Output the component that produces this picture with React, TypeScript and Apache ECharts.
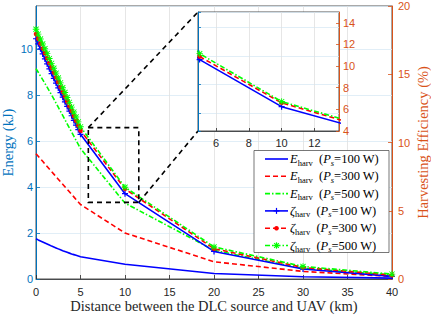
import React, { useEffect, useRef } from "react";
import * as echarts from "echarts";

// Distance between the DLC source and UAV (km)
const distances = [0, 0.25, 0.5, 0.75, 1, 1.25, 1.5, 1.75, 2, 2.25, 2.5, 2.75, 3, 3.25, 3.5, 3.75, 4, 4.25, 4.5, 4.75, 5, 10, 20, 30, 40];

// Harvested energy (kJ)
const eHarv100 = [1.75, 1.7, 1.655, 1.61, 1.565, 1.52, 1.475, 1.43, 1.39, 1.35, 1.31, 1.27, 1.23, 1.195, 1.16, 1.125, 1.09, 1.06, 1.03, 1.0, 0.97, 0.64, 0.24, 0.1, 0.04];
const eHarv300 = [5.45, 5.34, 5.23, 5.12, 5.0, 4.89, 4.78, 4.67, 4.56, 4.45, 4.34, 4.23, 4.12, 4.01, 3.9, 3.79, 3.68, 3.57, 3.46, 3.35, 3.24, 2.0, 0.75, 0.33, 0.11];
const eHarv500 = [9.15, 8.99, 8.83, 8.67, 8.51, 8.34, 8.17, 8.0, 7.83, 7.65, 7.47, 7.29, 7.11, 6.93, 6.75, 6.57, 6.39, 6.21, 6.03, 5.85, 5.67, 3.3, 1.25, 0.46, 0.18];

// Harvesting efficiency (%)
const zeta100 = [17.6, 17.23, 16.86, 16.49, 16.12, 15.76, 15.4, 15.05, 14.7, 14.35, 14.0, 13.66, 13.32, 12.98, 12.64, 12.3, 11.96, 11.62, 11.28, 10.94, 10.6, 6.25, 2.02, 0.73, 0.19];
const zeta300 = [17.95, 17.6, 17.24, 16.89, 16.54, 16.18, 15.83, 15.48, 15.12, 14.77, 14.42, 14.06, 13.71, 13.36, 13.0, 12.65, 12.3, 11.94, 11.59, 11.24, 10.88, 6.6, 2.22, 0.85, 0.28];
const zeta500 = [18.3, 17.94, 17.58, 17.22, 16.87, 16.51, 16.15, 15.8, 15.44, 15.08, 14.73, 14.37, 14.01, 13.66, 13.3, 12.94, 12.59, 12.23, 11.87, 11.51, 11.15, 6.72, 2.35, 0.92, 0.36];

const powers = ["100", "300", "500"];

// zoom rectangle (data coords of main chart, kJ axis) and inset ranges
const zoomX = [5.88, 11.55];
const zoomY = [3.33, 6.58];
const insetX = [4.9, 13.5];
const insetY = [4, 15];

const BLUE_AX = "#0072BD";
const ORANGE_AX = "#D95319";
const DARK = "#262626";
const colors = ["#0000FF", "#FF0000", "#00FF00"];
const dashes: any[] = ["solid", [5, 3], [5, 2, 1.5, 2]];

const PLUS = "path://M4,0H6V4H10V6H6V10H4V6H0V4H4Z";
const STAR =
  "path://M4.3,0H5.7V4.3H10V5.7H5.7V10H4.3V5.7H0V4.3H4.3Z M1.5,0.5L5,4L8.5,0.5L9.5,1.5L6,5L9.5,8.5L8.5,9.5L5,6L1.5,9.5L0.5,8.5L4,5L0.5,1.5Z";
const symbols = [PLUS, "circle", STAR];
const symbolSizes = [6, 4.5, 6.5];

const pairs = (arr: number[]) => distances.map((d, i) => [d, arr[i]]);

export default function App() {
  const ref = useRef<HTMLDivElement>(null);
  useEffect(() => {
    document.body.style.margin = "0";
    const chart = echarts.init(ref.current!, null, { renderer: "svg" });
    const eArr = [eHarv100, eHarv300, eHarv500];
    const zArr = [zeta100, zeta300, zeta500];
    const series: any[] = [];
    eArr.forEach((arr, i) => {
      series.push({
        name: `E_harv (P_s=${powers[i]} W)`,
        type: "line",
        xAxisIndex: 0,
        yAxisIndex: 0,
        data: pairs(arr),
        symbol: "none",
        lineStyle: { color: colors[i], width: 1.6, type: dashes[i] },
        z: 2,
      });
    });
    zArr.forEach((arr, i) => {
      series.push({
        name: `zeta_harv (P_s=${powers[i]} W)`,
        type: "line",
        xAxisIndex: 0,
        yAxisIndex: 1,
        data: pairs(arr),
        symbol: symbols[i],
        symbolSize: symbolSizes[i],
        itemStyle: { color: colors[i] },
        lineStyle: { color: colors[i], width: 1.6, type: dashes[i] },
        z: 3,
      });
    });
    zArr.forEach((arr, i) => {
      series.push({
        name: `inset zeta_harv (P_s=${powers[i]} W)`,
        type: "line",
        xAxisIndex: 1,
        yAxisIndex: 2,
        data: pairs(arr),
        symbol: symbols[i],
        symbolSize: symbolSizes[i],
        itemStyle: { color: colors[i] },
        lineStyle: { color: colors[i], width: 1.6, type: dashes[i] },
        clip: true,
        z: 12,
      });
    });

    const tickFont = { fontFamily: "Liberation Sans", fontSize: 11 };
    const nameFont = { fontFamily: "Liberation Serif", fontSize: 14.5, lineHeight: 15 };

    chart.setOption({
      animation: false,
      textStyle: { fontFamily: "Liberation Sans" },
      grid: [
        { left: 36, top: 6, width: 356, height: 273, show: true, backgroundColor: "#fff", borderColor: DARK, borderWidth: 0.8, outerBoundsMode: "none", z: 0 },
        { left: 198, top: 12, width: 141, height: 119, show: true, backgroundColor: "#fff", borderColor: DARK, borderWidth: 0.8, outerBoundsMode: "none", z: 10 },
      ],
      xAxis: [
        {
          type: "value", gridIndex: 0, min: 0, max: 40, interval: 5,
          axisLine: { lineStyle: { color: DARK, width: 0.8 } },
          axisTick: { inside: true, length: 4, lineStyle: { color: DARK, width: 0.8 } },
          axisLabel: { ...tickFont, color: DARK, margin: 7 },
          splitLine: { show: true, lineStyle: { color: "#dfdfdf", width: 0.8 } },
          name: "Distance between the DLC source and UAV (km)",
          nameLocation: "middle", nameGap: 19, nameMoveOverlap: false,
          nameTextStyle: { ...nameFont, color: DARK },
        },
        {
          type: "value", gridIndex: 1, min: insetX[0], max: insetX[1], splitNumber: 4, z: 11,
          axisLine: { lineStyle: { color: DARK, width: 0.8 } },
          axisTick: { inside: true, length: 3, lineStyle: { color: DARK, width: 0.8 } },
          axisLabel: { ...tickFont, color: DARK, margin: 6, showMinLabel: false, showMaxLabel: false },
          splitLine: { show: true, lineStyle: { color: "#dfdfdf", width: 0.8 } },
        },
      ],
      yAxis: [
        {
          type: "value", gridIndex: 0, position: "left", min: 0, max: 11.87, interval: 2,
          axisLine: { show: true, lineStyle: { color: BLUE_AX, width: 1 } },
          axisTick: { show: true, inside: true, length: 4, lineStyle: { color: BLUE_AX, width: 0.8 } },
          axisLabel: { ...tickFont, color: BLUE_AX, margin: 3, showMaxLabel: false },
          splitLine: { show: true, lineStyle: { color: "#d9eaf5", width: 0.8 } },
          name: "Energy (kJ)", nameLocation: "middle", nameGap: 21, nameMoveOverlap: false,
          nameTextStyle: { ...nameFont, color: BLUE_AX },
        },
        {
          type: "value", gridIndex: 0, position: "right", min: 0, max: 20, interval: 5,
          axisLine: { show: true, lineStyle: { color: ORANGE_AX, width: 1 } },
          axisTick: { show: true, inside: true, length: 4, lineStyle: { color: ORANGE_AX, width: 0.8 } },
          axisLabel: { ...tickFont, color: ORANGE_AX, margin: 6 },
          splitLine: { show: false },
          name: "Harvesting Efficiency (%)", nameLocation: "middle", nameGap: 23, nameMoveOverlap: false,
          nameTextStyle: { ...nameFont, color: ORANGE_AX },
        },
        {
          type: "value", gridIndex: 1, position: "right", min: insetY[0], max: insetY[1], interval: 2, z: 11,
          axisLine: { show: true, lineStyle: { color: ORANGE_AX, width: 1 } },
          axisTick: { show: true, inside: true, length: 3, lineStyle: { color: ORANGE_AX, width: 0.8 } },
          axisLabel: { ...tickFont, color: ORANGE_AX, margin: 4, showMaxLabel: false },
          splitLine: { show: false },
        },
        {
          type: "value", gridIndex: 1, position: "left", min: 2.37, max: 6.53, splitNumber: 4, z: 11,
          axisLine: { show: true, lineStyle: { color: BLUE_AX, width: 1 } },
          axisTick: { show: true, inside: true, length: 3, lineStyle: { color: BLUE_AX, width: 0.8 } },
          axisLabel: { show: false },
          splitLine: { show: true, lineStyle: { color: "#d9eaf5", width: 0.8 } },
        },
      ],
      series,
    });

    // zoom box + connectors
    const tl = chart.convertToPixel({ xAxisIndex: 0, yAxisIndex: 0 } as any, [zoomX[0], zoomY[1]]) as number[];
    const br = chart.convertToPixel({ xAxisIndex: 0, yAxisIndex: 0 } as any, [zoomX[1], zoomY[0]]) as number[];
    const itl = chart.convertToPixel({ xAxisIndex: 1, yAxisIndex: 2 } as any, [insetX[0], insetY[1]]) as number[];
    const ibl = chart.convertToPixel({ xAxisIndex: 1, yAxisIndex: 2 } as any, [insetX[0], insetY[0]]) as number[];
    const dashStyle = { stroke: "#000", lineWidth: 1.6, lineDash: [5, 4], fill: null };

    const elements: any[] = [
      { type: "rect", z: 8, shape: { x: tl[0], y: tl[1], width: br[0] - tl[0], height: br[1] - tl[1] }, style: { ...dashStyle, fill: "none" } },
      { type: "line", z: 8, shape: { x1: tl[0], y1: tl[1], x2: itl[0], y2: itl[1] }, style: dashStyle },
      { type: "line", z: 8, shape: { x1: br[0], y1: br[1], x2: ibl[0], y2: ibl[1] }, style: dashStyle },
    ];

    // legend
    const lgX = 254, lgY = 150.5, lgW = 135, lgH = 102;
    elements.push({ type: "rect", z: 20, shape: { x: lgX, y: lgY, width: lgW, height: lgH }, style: { fill: "#fff", stroke: "#3c3c3c", lineWidth: 0.7 } });
    const rich = {
      i: { fontFamily: "Liberation Serif", fontStyle: "italic", fontSize: 12.5, fill: "#000" },
      sub: { fontFamily: "Liberation Serif", fontSize: 8.5, padding: [7, 0, 0, 0], fill: "#000" },
      subi: { fontFamily: "Liberation Serif", fontStyle: "italic", fontSize: 8.5, padding: [7, 0, 0, 0], fill: "#000" },
      r: { fontFamily: "Liberation Serif", fontSize: 12.5, fill: "#000" },
    };
    for (let row = 0; row < 6; row++) {
      const k = row % 3;
      const y = 159 + row * 17.3;
      const sym = row < 3 ? "E" : "ζ";
      elements.push({
        type: "line", z: 21,
        shape: { x1: 265, y1: y, x2: 288, y2: y },
        style: { stroke: colors[k], lineWidth: 1.6, lineDash: k === 0 ? null : dashes[k] },
      });
      if (row >= 3) {
        const cx = 276.5;
        if (k === 0) {
          elements.push({ type: "line", z: 22, shape: { x1: cx - 3, y1: y, x2: cx + 3, y2: y }, style: { stroke: colors[k], lineWidth: 1.2 } });
          elements.push({ type: "line", z: 22, shape: { x1: cx, y1: y - 3, x2: cx, y2: y + 3 }, style: { stroke: colors[k], lineWidth: 1.2 } });
        } else if (k === 1) {
          elements.push({ type: "circle", z: 22, shape: { cx, cy: y, r: 2.3 }, style: { fill: colors[k] } });
        } else {
          const d = 3.2, q = 2.3;
          [[-d, 0, d, 0], [0, -d, 0, d], [-q, -q, q, q], [-q, q, q, -q]].forEach((s) =>
            elements.push({ type: "line", z: 22, shape: { x1: cx + s[0], y1: y + s[1], x2: cx + s[2], y2: y + s[3] }, style: { stroke: colors[k], lineWidth: 1.2 } })
          );
        }
      }
      elements.push({
        type: "text", z: 22,
        style: {
          x: 290, y,
          text: `{i|${sym}}{sub|harv}{r|  (}{i|P}{subi|s}{r|=${powers[k]} W)}`,
          rich,
          fontFamily: "Liberation Serif", fontSize: 12.5, fill: "#000",
          verticalAlign: "middle", align: "left",
        },
      });
    }
    chart.setOption({ graphic: { elements } });

    return () => chart.dispose();
  }, []);
  return <div ref={ref} style={{ width: 431, height: 315 }} />;
}
